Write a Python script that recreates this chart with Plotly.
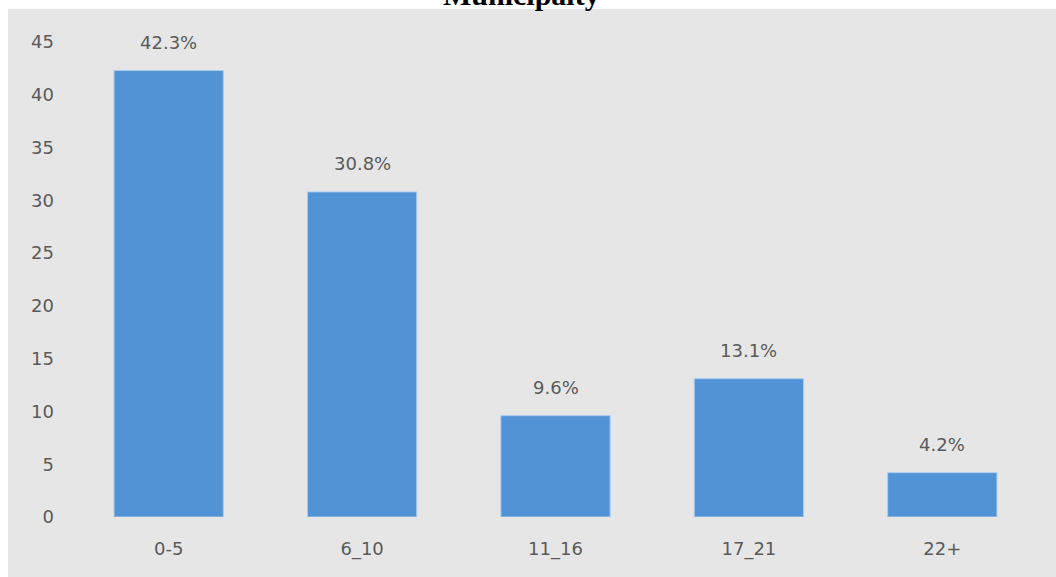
import plotly.graph_objects as go

# Age groups and their share of the municipality population (%)
age_groups = ["0-5", "6_10", "11_16", "17_21", "22+"]
shares = [42.3, 30.8, 9.6, 13.1, 4.2]
y_ticks = [0, 5, 10, 15, 20, 25, 30, 35, 40, 45]

W, H = 1056, 577
M_L, M_R, M_T, M_B = 72, 17, 42, 60
plot_w = W - M_L - M_R
plot_h = H - M_T - M_B

def px_x(px):
    return (px - M_L) / plot_w

def px_y(px):
    return 1 + (M_T - px) / plot_h

label_font = dict(family="DejaVu Sans", size=18, color="#5a5a5a")

fig = go.Figure(
    go.Bar(
        x=age_groups,
        y=shares,
        width=0.565,
        marker=dict(color="#5193d5", line=dict(color="#a9cdf0", width=1)),
        cliponaxis=False,
        hoverinfo="skip",
    )
)

# percentage labels floating above each bar
value_labels = [
    dict(text=f"{v}%", x=g, y=v, xref="x", yref="y",
         xanchor="center", yanchor="bottom", yshift=16,
         showarrow=False, font=label_font)
    for g, v in zip(age_groups, shares)
]

fig.update_layout(
    width=W,
    height=H,
    margin=dict(l=M_L, r=M_R, t=M_T, b=M_B),
    paper_bgcolor="#e6e6e6",
    plot_bgcolor="#e6e6e6",
    showlegend=False,
    xaxis=dict(
        showgrid=False,
        zeroline=False,
        showline=False,
        ticks="",
        tickfont=label_font,
        ticklabelstandoff=19,
    ),
    yaxis=dict(
        range=[0, 45],
        tickvals=y_ticks,
        showgrid=False,
        zeroline=False,
        showline=False,
        ticks="",
        tickfont=label_font,
        ticklabelstandoff=17,
    ),
    shapes=[
        # white page margin above and to the left of the chart panel
        dict(type="rect", xref="paper", yref="paper",
             x0=px_x(-5), x1=px_x(W + 5), y0=px_y(9), y1=px_y(-5),
             fillcolor="white", line=dict(width=0), layer="below"),
        dict(type="rect", xref="paper", yref="paper",
             x0=px_x(-5), x1=px_x(8), y0=px_y(H + 5), y1=px_y(-5),
             fillcolor="white", line=dict(width=0), layer="below"),
    ],
    annotations=value_labels + [
        dict(text="<b>Municipalty</b>", xref="paper", yref="paper",
             x=px_x(521), y=px_y(13), xanchor="center", yanchor="bottom",
             showarrow=False,
             font=dict(family="Liberation Serif", size=30, color="black")),
    ],
)

fig.write_html("out.html")
